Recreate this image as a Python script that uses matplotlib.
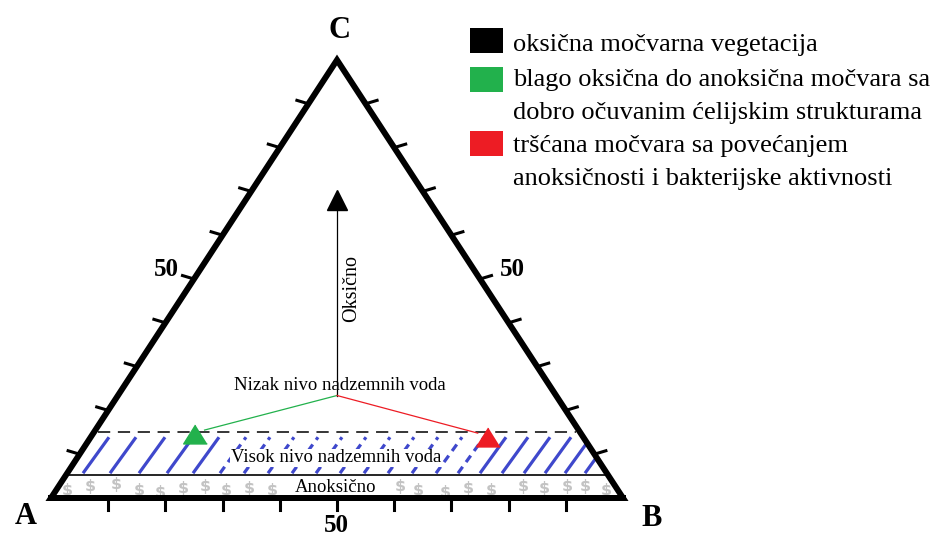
import matplotlib
matplotlib.use('Agg')
from matplotlib import pyplot as plt
from matplotlib.patches import Polygon, Rectangle
import numpy as np

# ---- data ----
vertex_labels = ['A', 'B', 'C']
tick_fracs = [0.1, 0.2, 0.3, 0.4, 0.5, 0.6, 0.7, 0.8, 0.9]
tick_label = '50'
centre = (0.383, 0.383, 0.234)        # a, b, c of "Nizak nivo" point
oxic_top = (0.16, 0.16, 0.68)         # tip of black arrow
green_end = (0.676, 0.178, 0.146)
red_end = (0.167, 0.694, 0.139)
level_dashed = 0.151                  # c-level of dashed line
level_solid = 0.052                   # c-level of solid line
hatch_x = [83, 110, 139, 167, 193, 220, 244, 268, 292, 316, 340, 364, 388,
           412, 436, 458, 480, 502, 524, 545, 565, 585, 605]
hatch_solid = [x < 205 or x > 470 for x in hatch_x]
dollar_x = [67, 90, 116, 139, 160, 183, 205, 226, 249, 272,
            400, 418, 445, 468, 491, 523, 544, 567, 585, 606]
dollar_dy = [3, -1, -3, 2, 4, 0, -2, 3, 0, 2,
             -1, 2, 4, 1, 3, -2, 1, -1, -2, 2]
legend_colors = ['#000000', '#22b14c', '#ed1c24']
legend_lines = [['oksična močvarna vegetacija'],
                ['blago oksična do anoksična močvara sa',
                 'dobro očuvanim ćelijskim strukturama'],
                ['tršćana močvara sa povećanjem',
                 'anoksičnosti i bakterijske aktivnosti']]

# ---- geometry (pixel frame) ----
PA, PB, PC = np.array([51., 498.]), np.array([623., 498.]), np.array([337., 60.])


def tern(a, b, c):
    s = a + b + c
    return (PA * a + PB * b + PC * c) / s


def level_x(c):
    y = PA[1] + (PC[1] - PA[1]) * c
    xl = PA[0] + (PC[0] - PA[0]) * c
    xr = PB[0] + (PC[0] - PB[0]) * c
    return xl, xr, y


serif = ['Liberation Serif', 'DejaVu Serif']
fig = plt.figure(figsize=(9.4, 5.4), dpi=100)
ax = fig.add_axes([0, 0, 1, 1])
ax.set_xlim(0, 940)
ax.set_ylim(540, 0)
ax.axis('off')

# triangle
tri = np.array([PA, PB, PC, PA, PB])
ax.plot(tri[:, 0], tri[:, 1], color='k', lw=4.3, solid_joinstyle='miter', zorder=5)

# ticks
edges = [(PA, PB, np.array([0., 1.])),
         (PA, PC, np.array([-1., -0.3])),
         (PC, PB, np.array([1., -0.3]))]
for p0, p1, nrm in edges:
    d = p1 - p0
    nrm = nrm / np.hypot(*nrm)
    for f in tick_fracs:
        p = p0 + d * f
        q = p + nrm * 12
        ax.plot([p[0], q[0]], [p[1], q[1]], color='k', lw=2.2, zorder=5)

# bands
xl_d, xr_d, y_d = level_x(level_dashed)
xl_s, xr_s, y_s = level_x(level_solid)
ax.plot([xl_d + 4, xr_d - 4], [y_d, y_d], color='k', lw=1.1, dashes=(8, 5), zorder=3)
ax.plot([xl_s, xr_s], [y_s, y_s], color='k', lw=1.2, zorder=3)

band = Polygon([[xl_d, y_d], [xr_d, y_d], [xr_s, y_s], [xl_s, y_s]],
               closed=True, fill=False, lw=0, transform=ax.transData)
ax.add_patch(band)
for x0, solid in zip(hatch_x, hatch_solid):
    kw = dict(color='#3f48cc', lw=2.3, zorder=2, solid_capstyle='butt')
    if not solid:
        kw['dashes'] = (2.5, 1.8)
    ln, = ax.plot([x0, x0 + 26], [y_s - 2, y_s - 38], **kw)
    ln.set_clip_path(band)

for x0, dy in zip(dollar_x, dollar_dy):
    ax.text(x0, 488 + dy, '$', color='#c3c3c3', fontsize=11.5, fontweight='bold',
            ha='center', va='center', family='DejaVu Sans', parse_math=False, zorder=2)

# arrows
c0 = tern(*centre)
top = tern(*oxic_top)
g = tern(*green_end)
r = tern(*red_end)
ax.plot([c0[0], top[0]], [c0[1], top[1] + 8], color='k', lw=0.9, zorder=3)
ax.plot(top[0], top[1], marker='^', ms=14.5, color='k', zorder=4)
tri_mk = [(0, 0.8), (-1, -0.8), (1, -0.8)]
ax.plot([c0[0], g[0] + 10], [c0[1], g[1] - 4], color='#22b14c', lw=0.9, zorder=3)
ax.plot(g[0], g[1], marker=tri_mk, ms=17, color='#22b14c', zorder=4)
ax.plot([c0[0], r[0] - 10], [c0[1], r[1] - 4], color='#ed1c24', lw=0.9, zorder=3)
ax.plot(r[0], r[1], marker=tri_mk, ms=17, color='#ed1c24', zorder=4)

# text
ax.text(340, 385, 'Nizak nivo nadzemnih voda', fontsize=13.5, family=serif,
        ha='center', va='center', zorder=2)
ax.text(336, 458, 'Visok nivo nadzemnih voda', fontsize=13.5, family=serif,
        ha='center', va='center', zorder=4,
        bbox=dict(facecolor='white', edgecolor='none', pad=0.5))
ax.text(336, 488, 'Anoksično', fontsize=13.5, family=serif,
        ha='center', va='center', zorder=4)
ax.text(352, 288, 'Oksično', fontsize=14.5, family=serif, rotation=90,
        ha='center', va='center', zorder=4)

for lab, pos in zip(vertex_labels, [(26, 517), (652, 519), (340, 30)]):
    ax.text(*pos, lab, fontsize=22, fontweight='bold', family=serif,
            ha='center', va='center')
for pos in [(166, 270), (512, 270), (336, 526)]:
    ax.text(*pos, tick_label, fontsize=18, fontweight='bold', family=serif,
            ha='center', va='center')

# legend
row_y = [[45], [80, 113], [146, 179]]
box_y = [28, 67, 131]
for col, lines, ys, by in zip(legend_colors, legend_lines, row_y, box_y):
    ax.add_patch(Rectangle((470, by), 33, 25, facecolor=col, edgecolor='none'))
    for txt, yy in zip(lines, ys):
        ax.text(513, yy, txt, fontsize=19, family=serif, ha='left', va='center')

fig.savefig('out.png', dpi=100)
